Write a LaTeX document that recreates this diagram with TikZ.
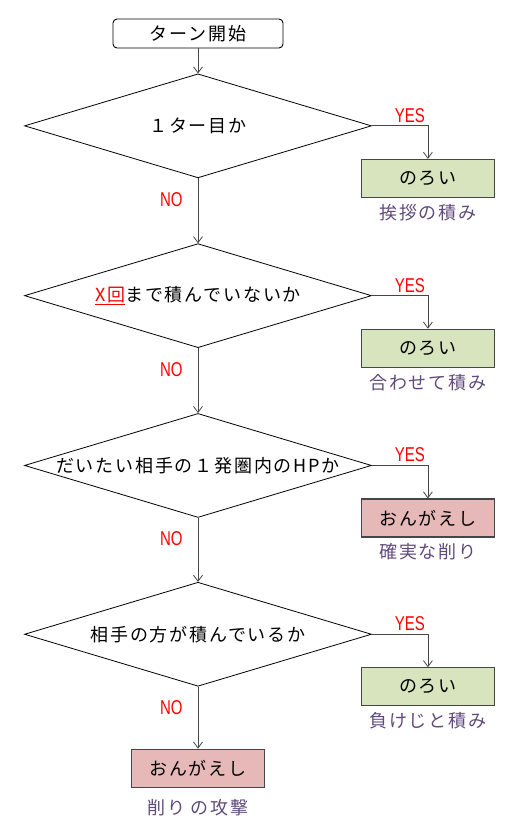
\documentclass[tikz,border=0pt]{standalone}
\usepackage{fontspec}
\setmainfont{Noto Sans CJK JP}[LetterSpace=10]
\newfontfamily\yesnofont{Liberation Sans}[FakeStretch=0.75]
\usetikzlibrary{arrows.meta, positioning, shapes.geometric}
\definecolor{boxgreen}{RGB}{215,228,189}
\definecolor{boxpink}{RGB}{230,185,184}
\definecolor{notepurple}{RGB}{96,74,123}
\definecolor{linegray}{RGB}{70,70,70}

\begin{document}
\begin{tikzpicture}[
    node distance=65pt,
    every node/.style={font=\fontsize{18}{20}\selectfont},
    startbox/.style={rectangle, draw, line width=0.9pt, rounded corners=4pt, minimum width=170pt, minimum height=29pt, inner sep=0pt},
    decision/.style={diamond, draw, line width=0.8pt, minimum width=347pt, minimum height=104pt, inner sep=0pt},
    actbox/.style={rectangle, draw=linegray, line width=1.2pt, minimum width=133pt, minimum height=38pt, inner sep=0pt},
    note/.style={text=notepurple, inner sep=0pt},
    yesno/.style={text=red, font=\yesnofont\fontsize{20}{20}\selectfont, inner sep=0pt},
    arrow/.style={-{Straight Barb[length=6pt, width=9pt]}, draw=linegray, line width=0.8pt}
]
    \useasboundingbox (0,0) rectangle (508pt,-819pt);
    \node[startbox] (start) at (198pt,-33.5pt) {ターン開始};
    \node[decision, below=25pt of start, label=center:{１ター目か}] (d1) {};
    \node[decision, below=of d1, label=center:{\textcolor{red}{\underline{X回}}まで積んでいないか}] (d2) {};
    \node[decision, below=of d2, label=center:{だいたい相手の１発圏内のHPか}] (d3) {};
    \node[decision, below=64pt of d3, label=center:{相手の方が積んでいるか}] (d4) {};
    \node[actbox, fill=boxpink, below=62pt of d4] (b5) {おんがえし};
    \node[note, below=11pt of b5] (n5) {削り の攻撃};
    % yes branches
    \node[actbox, fill=boxgreen, below=33pt of d1.east, xshift=56pt] (b1) {のろい};
    \node[actbox, fill=boxgreen, below=33pt of d2.east, xshift=56pt] (b2) {のろい};
    \node[actbox, fill=boxpink, below=33pt of d3.east, xshift=56pt] (b3) {おんがえし};
    \node[actbox, fill=boxgreen, below=33pt of d4.east, xshift=56pt] (b4) {のろい};
    \node[note, below=6pt of b1] (n1) {挨拶の積み};
    \node[note, below=6pt of b2] (n2) {合わせて積み};
    \node[note, below=6pt of b3] (n3) {確実な削り};
    \node[note, below=6pt of b4] (n4) {負けじと積み};
    \draw[arrow] (start) -- (d1);
    \draw[arrow] (d1) -- node[yesno, pos=0.33, left=15pt]{NO} (d2);
    \draw[arrow] (d2) -- node[yesno, pos=0.33, left=15pt]{NO} (d3);
    \draw[arrow] (d3) -- node[yesno, pos=0.33, left=15pt]{NO} (d4);
    \draw[arrow] (d4) -- node[yesno, pos=0.33, left=15pt]{NO} (b5);
    \draw[arrow] (d1.east) -| node[yesno, pos=0.34, above=3pt]{YES} (b1);
    \draw[arrow] (d2.east) -| node[yesno, pos=0.34, above=3pt]{YES} (b2);
    \draw[arrow] (d3.east) -| node[yesno, pos=0.34, above=3pt]{YES} (b3);
    \draw[arrow] (d4.east) -| node[yesno, pos=0.34, above=3pt]{YES} (b4);
\end{tikzpicture}
\end{document}
